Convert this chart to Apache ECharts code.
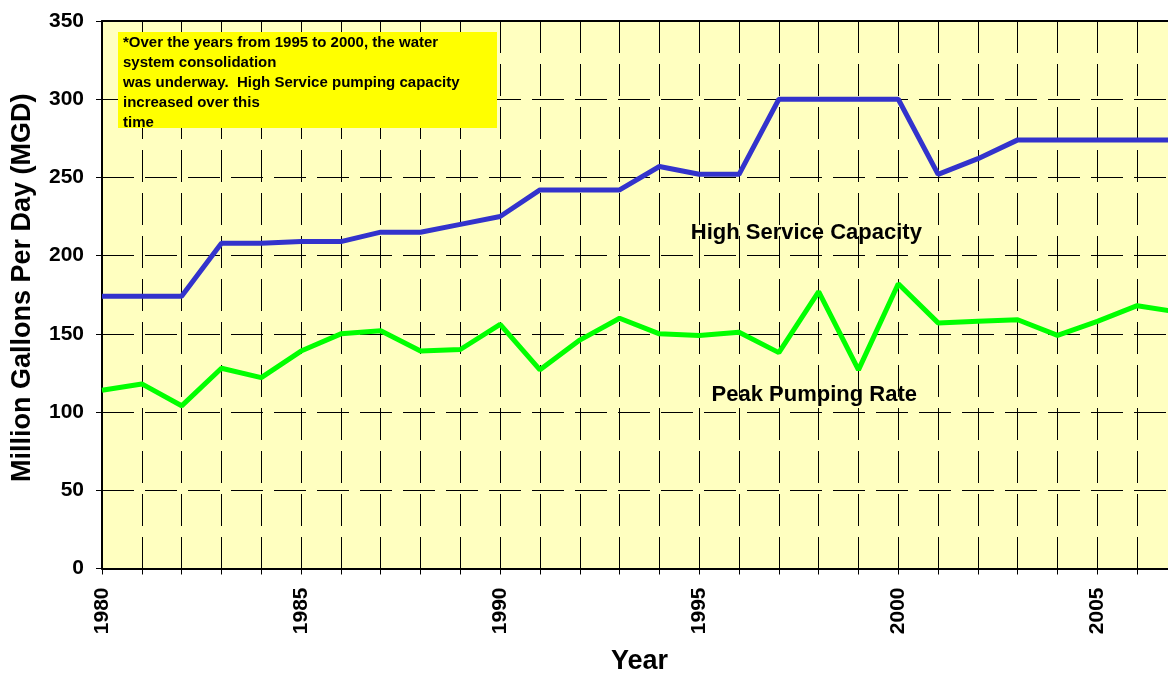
<!DOCTYPE html>
<html>
<head>
<meta charset="utf-8">
<script src="https://cdn.jsdelivr.net/npm/echarts@6/dist/echarts.min.js"></script>
<style>
  html, body { margin: 0; padding: 0; background: #fff; }
  #chart { width: 1168px; height: 677px; }
</style>
</head>
<body>
<div id="chart"></div>
<script>
var years = [1980, 1981, 1982, 1983, 1984, 1985, 1986, 1987, 1988, 1989,
  1990, 1991, 1992, 1993, 1994, 1995, 1996, 1997, 1998, 1999,
  2000, 2001, 2002, 2003, 2004, 2005, 2006, 2007]
var highService = [174, 174, 174, 208, 208, 209, 209, 215, 215, 220,
  225, 242, 242, 242, 257, 252, 252, 300, 300, 300,
  300, 252, 262, 274, 274, 274, 274, 274]
var peakPumping = [114, 118, 104, 128, 122, 139, 150, 152, 139, 140,
  156, 127, 146, 160, 150, 149, 151, 138, 177, 127,
  182, 157, 158, 159, 149, 158, 168, 164]
var noteLines = [
  '*Over the years from 1995 to 2000, the water',
  'system consolidation',
  'was underway.  High Service pumping capacity',
  'increased over this',
  'time'
]

var font = "'Liberation Sans', Arial, sans-serif"

function pairs(xs, ys) {
  return xs.map(function (x, i) { return [x, ys[i]] })
}

function seriesLabel(name, coord) {
  return {
    silent: true,
    symbol: 'circle',
    symbolSize: 1,
    itemStyle: { color: 'rgba(0,0,0,0)' },
    label: {
      show: true, position: 'inside', formatter: '{b}',
      fontFamily: font, fontWeight: 'bold', fontSize: 22, color: '#000'
    },
    data: [{ name: name, coord: coord }]
  }
}

var dash = { color: '#000', width: 1, type: [32, 11] }
var nameStyle = { fontFamily: font, fontWeight: 'bold', fontSize: 27, color: '#000' }

var chart = echarts.init(document.getElementById('chart'))
chart.setOption({
  animation: false,
  backgroundColor: '#fff',
  grid: {
    // the original picture is cut off a little before 2007, so the grid runs past the right edge
    left: 102, right: -9, top: 21, bottom: 108.5,
    outerBoundsMode: 'none',
    show: true, backgroundColor: '#FFFFC0', borderWidth: 0
  },
  xAxis: [
    {
      type: 'value',
      min: 1980, max: 2007, interval: 1,
      name: 'Year', nameLocation: 'middle', nameGap: 80,
      nameTextStyle: nameStyle,
      axisLine: { lineStyle: { color: '#000', width: 2 } },
      axisTick: { show: true, length: 6, lineStyle: { color: '#000' } },
      axisLabel: {
        rotate: 90, margin: 19,
        fontFamily: font, fontWeight: 'bold', fontSize: 21, color: '#000',
        formatter: function (v) { return v % 5 === 0 ? String(v) : '' }
      },
      splitLine: { show: true, lineStyle: dash }
    },
    {
      // plain top border
      type: 'value', position: 'top',
      min: 1980, max: 2007,
      axisLine: { show: true, lineStyle: { color: '#000', width: 2 } },
      axisTick: { show: false },
      axisLabel: { show: false },
      splitLine: { show: false }
    }
  ],
  yAxis: {
    type: 'value',
    min: 0, max: 350, interval: 50,
    name: 'Million Gallons Per Day (MGD)', nameLocation: 'middle', nameGap: 66,
    nameTextStyle: Object.assign({ padding: [0, 0, 0, 14] }, nameStyle),
    axisLine: { show: true, lineStyle: { color: '#000', width: 2 } },
    axisTick: { show: true, length: 6, lineStyle: { color: '#000' } },
    axisLabel: { margin: 18, fontFamily: font, fontWeight: 'bold', fontSize: 21, color: '#000' },
    splitLine: { show: true, lineStyle: dash }
  },
  series: [
    {
      name: 'High Service Capacity',
      type: 'line',
      data: pairs(years, highService),
      showSymbol: false,
      lineStyle: { color: '#3333CC', width: 5 },
      itemStyle: { color: '#3333CC' },
      markPoint: seriesLabel('High Service Capacity', [1997.69, 214.5])
    },
    {
      name: 'Peak Pumping Rate',
      type: 'line',
      data: pairs(years, peakPumping),
      showSymbol: false,
      lineStyle: { color: '#00FF00', width: 5 },
      itemStyle: { color: '#00FF00' },
      markPoint: seriesLabel('Peak Pumping Rate', [1997.89, 111])
    }
  ],
  graphic: [
    {
      type: 'rect', z: 100,
      shape: { x: 118, y: 32, width: 379, height: 96 },
      style: { fill: '#FFFF00' }
    },
    {
      type: 'text', z: 101, left: 123, top: 33,
      style: {
        text: noteLines.join('\n'),
        fontFamily: font, fontWeight: 'bold', fontSize: 15,
        lineHeight: 20, fill: '#000'
      }
    }
  ]
})
</script>
</body>
</html>
